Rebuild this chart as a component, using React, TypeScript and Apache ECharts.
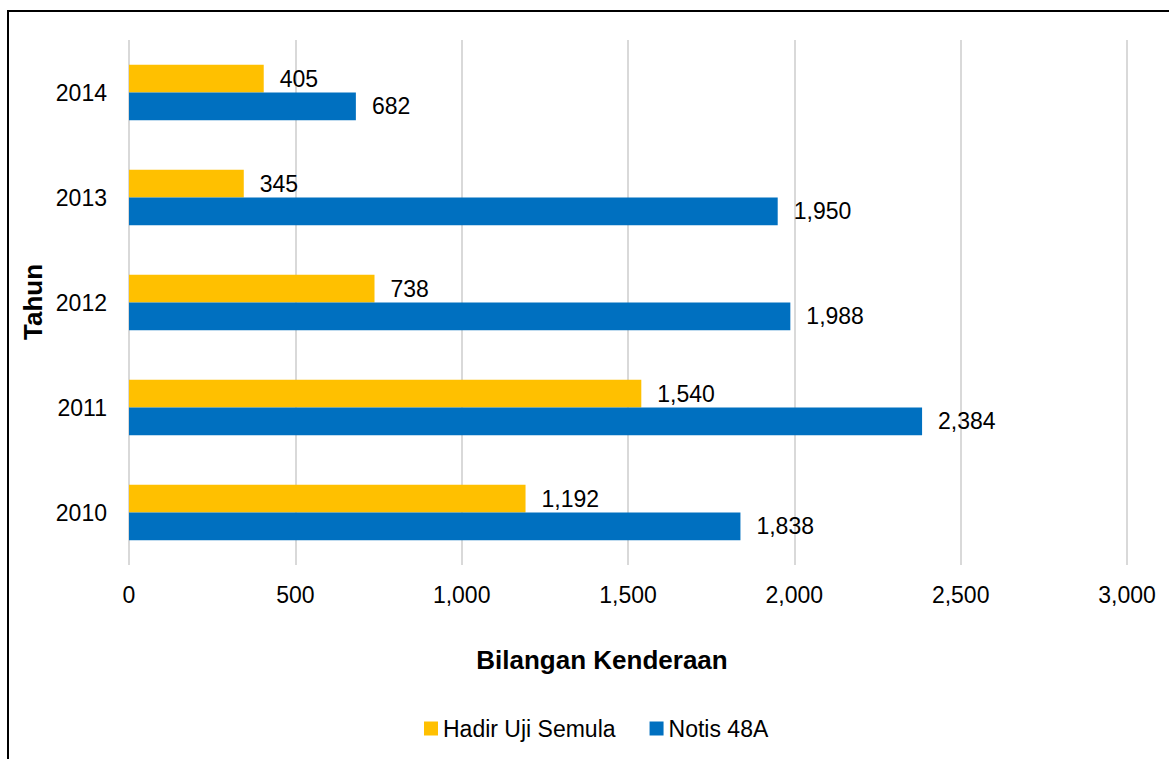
import React, { useEffect, useRef } from "react";
import * as echarts from "echarts";

const years = ["2010", "2011", "2012", "2013", "2014"];
const hadirUjiSemula = [1192, 1540, 738, 345, 405];
const notis48A = [1838, 2384, 1988, 1950, 682];
const seriesNames = ["Hadir Uji Semula", "Notis 48A"];
const xTitle = "Bilangan Kenderaan";
const yTitle = "Tahun";

const FONT = "'Liberation Sans', Arial, sans-serif";

export default function App() {
  const ref = useRef<HTMLDivElement>(null);
  useEffect(() => {
    document.body.style.margin = "0";
    const chart = echarts.init(ref.current!, null, { renderer: "svg" });
    const fmt = (v: number) => v.toLocaleString("en-US");
    const labelCfg = {
      show: true,
      position: "right",
      distance: 16,
      fontSize: 23,
      fontFamily: FONT,
      color: "#000",
      formatter: (p: any) => fmt(p.value),
    };
    chart.setOption({
      animation: false,
      backgroundColor: "#fff",
      textStyle: { fontFamily: FONT },
      grid: { left: 129, right: 42, top: 40, bottom: 194, containLabel: false },
      xAxis: {
        type: "value",
        min: 0,
        max: 3000,
        interval: 500,
        axisLine: { show: false },
        axisTick: { show: false },
        splitLine: { lineStyle: { color: "#d9d9d9", width: 2 } },
        axisLabel: {
          fontSize: 23,
          color: "#000",
          fontFamily: FONT,
          margin: 18,
          formatter: (v: number) => fmt(v),
        },
      },
      yAxis: {
        type: "category",
        data: years,
        axisLine: { show: false },
        axisTick: { show: false },
        axisLabel: { fontSize: 23, color: "#000", fontFamily: FONT, margin: 22 },
      },
      legend: {
        top: 717,
        left: 424,
        padding: 0,
        itemWidth: 14,
        itemHeight: 14,
        itemGap: 34,
        icon: "rect",
        textStyle: { fontSize: 23, color: "#000", fontFamily: FONT },
        data: seriesNames,
      },
      series: [
        {
          name: seriesNames[0],
          type: "bar",
          data: hadirUjiSemula,
          itemStyle: { color: "#FFC000" },
          barGap: "0%",
          barCategoryGap: "47%",
          label: labelCfg,
        },
        {
          name: seriesNames[1],
          type: "bar",
          data: notis48A,
          itemStyle: { color: "#0070C0" },
          barGap: "0%",
          barCategoryGap: "47%",
          label: labelCfg,
        },
      ],
      graphic: [
        {
          type: "rect",
          shape: { x: 8, y: 11, width: 1300, height: 900 },
          style: { fill: "none", stroke: "#000", lineWidth: 2 },
          silent: true,
        },
        {
          type: "text",
          x: 602,
          y: 660,
          style: {
            text: xTitle,
            fontSize: 26,
            fontWeight: "bold",
            fontFamily: FONT,
            fill: "#000",
            align: "center",
            verticalAlign: "middle",
          },
        },
        {
          type: "text",
          x: 33,
          y: 302,
          rotation: Math.PI / 2,
          style: {
            text: yTitle,
            fontSize: 26,
            fontWeight: "bold",
            fontFamily: FONT,
            fill: "#000",
            align: "center",
            verticalAlign: "middle",
          },
        },
      ],
    });
    return () => chart.dispose();
  }, []);
  return (
    <div
      ref={ref}
      style={{ position: "fixed", left: 0, top: 0, width: 1169, height: 759 }}
    />
  );
}
